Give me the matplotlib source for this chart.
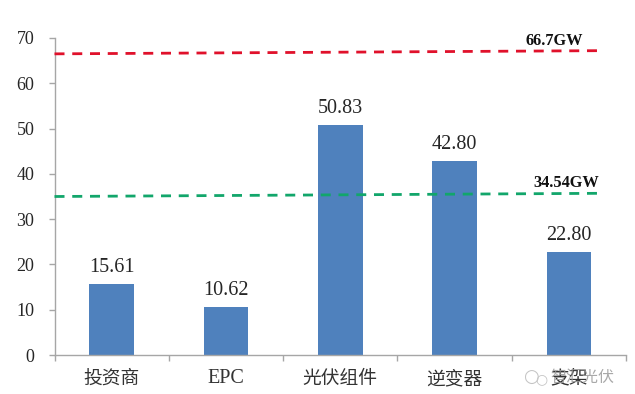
import matplotlib
matplotlib.use("Agg")
import matplotlib.pyplot as plt

categories = ["投资商", "EPC", "光伏组件", "逆变器", "支架"]
values = [15.61, 10.62, 50.83, 42.80, 22.80]
value_labels = ["15.61", "10.62", "50.83", "42.80", "22.80"]
y_ticks = [0, 10, 20, 30, 40, 50, 60, 70]
red_line_x = [-0.5, 4.246]
red_line_y = [66.5, 67.2]
green_line_x = [-0.5, 4.246]
green_line_y = [35.0, 35.7]

W, H = 635, 394
serif = ["Liberation Serif", "DejaVu Serif"]
cjk = ["Noto Sans CJK SC", "DejaVu Sans"]

fig = plt.figure(figsize=(W / 100, H / 100), dpi=100)
L, R, T, B = 54.5, 626, 38, 355
ax = fig.add_axes([L / W, 1 - B / H, (R - L) / W, (B - T) / H])

ax.bar(range(len(categories)), values, width=0.39, color="#4f81bd", zorder=2)
ax.set_xlim(-0.5, 4.5)
ax.set_ylim(0, 70)

for i, (v, s) in enumerate(zip(values, value_labels)):
    ax.annotate(s, (i, v), xytext=(0, 5), textcoords="offset points", ha="center", va="bottom",
                family=serif, fontsize=14.5, color="#262626")

ax.plot(red_line_x, red_line_y, color="#e0112b", lw=2.0, dashes=(3.6, 2.79), zorder=3, clip_on=False)
ax.plot(green_line_x, green_line_y, color="#12a66b", lw=2.0, dashes=(3.6, 2.79), zorder=3, clip_on=False)

ax.annotate("66.7GW", (3.87, 67.2), xytext=(0, 1.5), textcoords="offset points", ha="center", va="bottom",
            family=serif, fontsize=11.8, fontweight="bold", color="#111111")
ax.annotate("34.54GW", (3.98, 35.7), xytext=(0, 1.5), textcoords="offset points", ha="center", va="bottom",
            family=serif, fontsize=11.8, fontweight="bold", color="#111111")

for s in ("top", "right"):
    ax.spines[s].set_visible(False)
for s in ("left", "bottom"):
    ax.spines[s].set_color("#a6a6a6")
    ax.spines[s].set_linewidth(1.0)

ax.set_yticks(y_ticks)
ax.set_yticklabels([str(t) for t in y_ticks], family=serif, fontsize=13, color="#262626")
ax.tick_params(axis="y", length=4.5, width=1, color="#a6a6a6", pad=10)

ax.set_xticks([i - 0.5 for i in range(6)])
ax.set_xticklabels([])
ax.tick_params(axis="x", length=4, width=1, color="#a6a6a6")

for i, c in enumerate(categories):
    fam = serif if c.isascii() else cjk
    size = 14.5 if c.isascii() else 13.5
    ax.annotate(c, (i, 0), xytext=(0, -17), textcoords="offset points", ha="center", va="center",
                family=fam, fontsize=size, color="#333333")

# faint watermark over the last category label
fig.text(582 / W, 1 - 377 / H, "智汇光伏", family=cjk, fontsize=11.5, color="#9a9a9a",
         alpha=0.85, ha="center", va="center")
fig.text(531 / W, 1 - 377 / H, "○", family=["DejaVu Sans"], fontsize=13, color="#c4c4c4",
         ha="center", va="center")
fig.text(541 / W, 1 - 379 / H, "○", family=["DejaVu Sans"], fontsize=10, color="#c4c4c4",
         ha="center", va="center")

fig.savefig("out.png", dpi=100)
